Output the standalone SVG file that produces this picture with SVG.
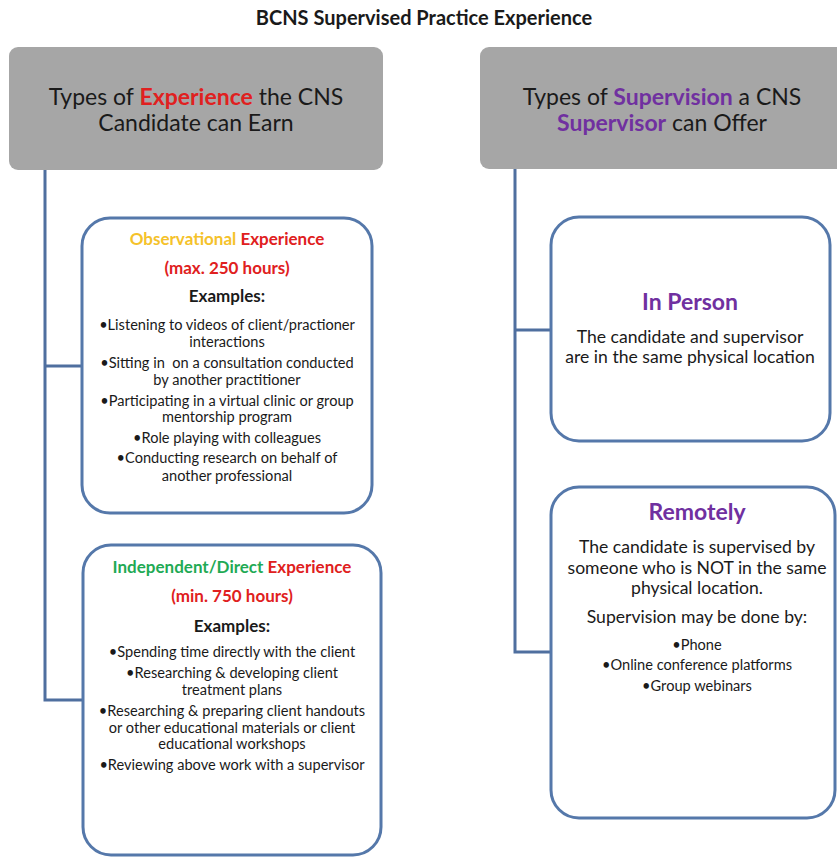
<svg xmlns="http://www.w3.org/2000/svg" width="837" height="857" viewBox="0 0 837 857">
<style>
text{font-family:Lato,"Open Sans","Liberation Sans",sans-serif;text-anchor:middle;fill:#1a1a1a}
.hdr{fill:#a6a6a6}
.hd{font-size:23px}
.box{fill:#fff;stroke:#5578aa;stroke-width:3}
.conn{fill:none;stroke:#4f6f9f;stroke-width:3}
.b{font-weight:bold}
.t1{font-size:17px;font-weight:bold}
.li{font-size:14.6px}
.r{fill:#e02020}
.y{fill:#f5c22a}
.g{fill:#1faa55}
.p{fill:#7030a0}
.m{font-size:17.6px}
.pt{font-size:23px;font-weight:bold;fill:#7030a0}
.pre{white-space:pre}
</style>
<text x="424" y="25" class="b" style="font-size:20px">BCNS Supervised Practice Experience</text>
<g id="connectors">
<polyline class="conn" points="45,170 45,700 83,700"/>
<line class="conn" x1="45" y1="366" x2="82" y2="366"/>
<polyline class="conn" points="515,169 515,652 551,652"/>
<line class="conn" x1="515" y1="330" x2="551" y2="330"/>
</g>
<g id="hdr-experience">
<rect class="hdr" x="9" y="47" width="374" height="123" rx="9"/>
<text x="196" y="105" class="hd">Types of <tspan class="r b">Experience</tspan> the CNS</text>
<text x="196" y="131" class="hd">Candidate can Earn</text>
</g>
<g id="hdr-supervision">
<rect class="hdr" x="480" y="47" width="370" height="122" rx="9"/>
<text x="662" y="105" class="hd">Types of <tspan class="p b">Supervision</tspan> a CNS</text>
<text x="662" y="131" class="hd"><tspan class="p b">Supervisor</tspan> can Offer</text>
</g>
<g id="observational">
<rect class="box" x="82" y="218" width="290" height="295" rx="28"/>
<text x="227" y="245" class="t1"><tspan class="y">Observational</tspan> <tspan class="r">Experience</tspan></text>
<text x="227" y="274" class="t1 r">(max. 250 hours)</text>
<text x="227" y="302" class="t1">Examples:</text>
<text x="227" y="330" class="li">•Listening to videos of client/practioner</text>
<text x="227" y="347" class="li">interactions</text>
<text x="227" y="368" class="li pre">•Sitting in  on a consultation conducted</text>
<text x="227" y="385" class="li">by another practitioner</text>
<text x="227" y="406" class="li">•Participating in a virtual clinic or group</text>
<text x="227" y="422" class="li">mentorship program</text>
<text x="227" y="443" class="li">•Role playing with colleagues</text>
<text x="227" y="463" class="li">•Conducting research on behalf of</text>
<text x="227" y="481" class="li">another professional</text>
</g>
<g id="independent">
<rect class="box" x="83" y="545" width="298" height="310" rx="28"/>
<text x="232" y="573" class="t1"><tspan class="g">Independent/Direct</tspan> <tspan class="r">Experience</tspan></text>
<text x="232" y="602" class="t1 r">(min. 750 hours)</text>
<text x="232" y="632" class="t1">Examples:</text>
<text x="232" y="657" class="li">•Spending time directly with the client</text>
<text x="232" y="678" class="li">•Researching &amp; developing client</text>
<text x="232" y="695" class="li">treatment plans</text>
<text x="232" y="716" class="li">•Researching &amp; preparing client handouts</text>
<text x="232" y="733" class="li">or other educational materials or client</text>
<text x="232" y="749" class="li">educational workshops</text>
<text x="232" y="770" class="li">•Reviewing above work with a supervisor</text>
</g>
<g id="in-person">
<rect class="box" x="551" y="217" width="279" height="224" rx="28"/>
<text x="690" y="310" class="pt">In Person</text>
<text x="690" y="343" class="m">The candidate and supervisor</text>
<text x="690" y="363" class="m">are in the same physical location</text>
</g>
<g id="remotely">
<rect class="box" x="551" y="487" width="284" height="331" rx="28"/>
<text x="697" y="520" class="pt">Remotely</text>
<text x="697" y="553" class="m">The candidate is supervised by</text>
<text x="697" y="574" class="m">someone who is NOT in the same</text>
<text x="697" y="594" class="m">physical location.</text>
<text x="697" y="623" class="m">Supervision may be done by:</text>
<text x="697" y="650" class="li">•Phone</text>
<text x="697" y="670" class="li">•Online conference platforms</text>
<text x="697" y="691" class="li">•Group webinars</text>
</g>
</svg>
